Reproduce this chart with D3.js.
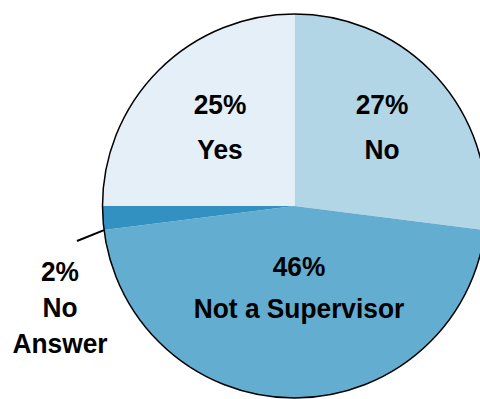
<!DOCTYPE html>
<html>
<head>
<meta charset="utf-8">
<script src="https://cdn.jsdelivr.net/npm/d3@7"></script>
<style>
  html, body { margin: 0; padding: 0; background: #fff; }
  svg { display: block; }
  .lbl { font-family: "Liberation Sans", Arial, Helvetica, sans-serif;
         font-weight: bold; font-size: 28px; fill: #000; text-anchor: middle; }
</style>
</head>
<body>
<svg id="chart" width="480" height="399"></svg>
<script>
// Survey answers, clockwise from 12 o'clock
const categories = ["No", "Not a Supervisor", "No Answer", "Yes"];
const percents   = [27, 46, 2, 25];
const colors     = ["#b3d6e7", "#63aed0", "#3391c1", "#e4eff7"];

const svg = d3.select("#chart");
const cx = 294.5, cy = 206, radius = 192;

const pie = d3.pie().sort(null).value(d => d.value);
const arcs = pie(categories.map((c, i) => ({ name: c, value: percents[i], color: colors[i] })));
const arc = d3.arc().innerRadius(0).outerRadius(radius);

const g = svg.append("g").attr("transform", `translate(${cx},${cy})`);

g.selectAll("path.slice")
  .data(arcs)
  .join("path")
  .attr("class", "slice")
  .attr("d", arc)
  .attr("fill", d => d.data.color);

// outer rim
g.append("circle")
  .attr("r", radius)
  .attr("fill", "none")
  .attr("stroke", "#000")
  .attr("stroke-width", 1.5);

// label positions (percent line, name lines)
const labelPos = {
  "Yes":              { x: 220,  y: 114, gap: 45, name: ["Yes"] },
  "No":               { x: 382,  y: 114, gap: 45, name: ["No"] },
  "Not a Supervisor": { x: 299,  y: 276, gap: 42, name: ["Not a Supervisor"] },
  "No Answer":        { x: 60,   y: 281, gap: 36, name: ["No", "Answer"] }
};

// condensed bold lettering: squeeze horizontally around each label's anchor
const squeeze = 0.94;
arcs.forEach(a => {
  const p = labelPos[a.data.name];
  const t = svg.append("text")
    .attr("class", "lbl")
    .attr("transform", `translate(${p.x},${p.y}) scale(${squeeze},1)`);
  t.append("tspan").attr("x", 0).attr("y", 0).text(a.data.value + "%");
  p.name.forEach((s, k) => {
    t.append("tspan").attr("x", 0).attr("y", p.gap * (k + 1)).text(s);
  });
});

// leader line for the small slice, meeting the rim at its lower edge
const small = arcs.find(a => a.data.name === "No Answer");
const ang = small.startAngle;
const ex = cx + Math.sin(ang) * radius, ey = cy - Math.cos(ang) * radius;
svg.append("line")
  .attr("x1", 77).attr("y1", 241)
  .attr("x2", ex).attr("y2", ey)
  .attr("stroke", "#000")
  .attr("stroke-width", 2);
</script>
</body>
</html>
